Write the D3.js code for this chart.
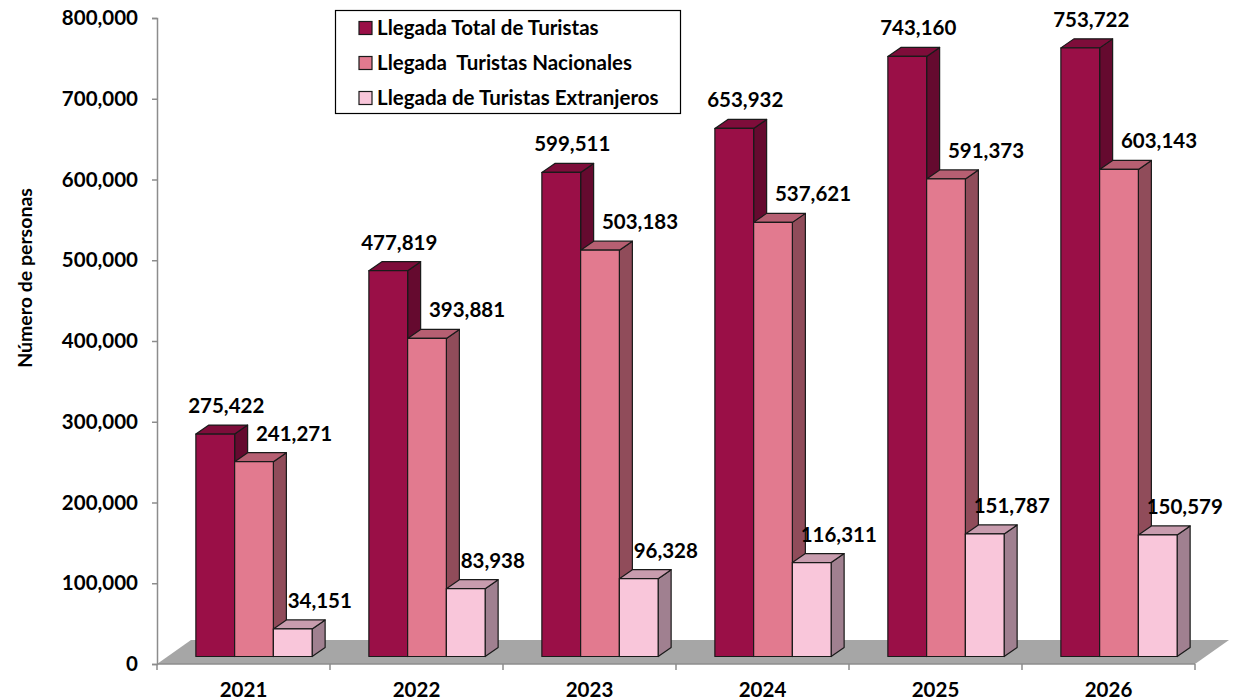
<!DOCTYPE html>
<html><head><meta charset="utf-8">
<script src="https://cdn.jsdelivr.net/npm/d3@7"></script>
<style>body{margin:0;background:#fff}svg{display:block}text{font-family:Lato,"Open Sans",sans-serif}</style>
</head><body><svg id="c" width="1234" height="700"></svg>
<script>
const categories = ["2021","2022","2023","2024","2025","2026"];
const seriesNames = ["Llegada Total de Turistas","Llegada  Turistas Nacionales","Llegada de Turistas Extranjeros"];
const totalValues = [275422,477819,599511,653932,743160,753722];
const nacionalValues = [241271,393881,503183,537621,591373,603143];
const extranjeroValues = [34151,83938,96328,116311,151787,150579];
const yTicks = [0,100000,200000,300000,400000,500000,600000,700000,800000];

const series = [
  {name: seriesNames[0], values: totalValues, front:"#9A0F47", top:"#7E0D3A", side:"#650A2F", lx:11},
  {name: seriesNames[1], values: nacionalValues, front:"#E27A8F", top:"#B65F72", side:"#904C5A", lx:40},
  {name: seriesNames[2], values: extranjeroValues, front:"#F9C6DA", top:"#C89CAE", side:"#A08090", lx:27}
];

const FS = 20.5;
const svg = d3.select("#c");
const x0 = 157, x1 = 1195, yTop = 18, yBot = 664;
const floorDx = 34, floorDy = -24;
const barDx = 13, barDy = -9;
const offDx = (floorDx - barDx)/2, offDy = (floorDy - barDy)/2;

const x = d3.scaleBand().domain(categories).range([x0, x1]).paddingInner(0).paddingOuter(0);
const y = d3.scaleLinear().domain([0, 800000]).range([yBot, yTop]);
const bw = x.bandwidth() * 0.224;

// floor
svg.append("path")
  .attr("d", `M${x0},${yBot} L${x1},${yBot} L${x1+floorDx},${yBot+floorDy} L${x0+floorDx},${yBot+floorDy} Z`)
  .attr("fill", "#A6A6A6");

// y axis
const yAxis = d3.axisLeft(y).tickValues(yTicks).tickSize(5).tickPadding(14)
  .tickFormat(d => d3.format(",")(d));
const gy = svg.append("g").attr("transform", `translate(${x0},0)`).call(yAxis);
gy.select(".domain").attr("stroke", "#8c8c8c").attr("stroke-width", 1.5);
gy.selectAll(".tick line").attr("stroke", "#8c8c8c").attr("stroke-width", 1.5);
gy.selectAll(".tick text").attr("font-size", FS).attr("font-weight", 700).attr("fill", "#000")
  .attr("font-family", "Lato, sans-serif");

// x axis
const gx = svg.append("g").attr("transform", `translate(0,${yBot})`);
gx.append("line").attr("x1", x0).attr("x2", x1).attr("y1", 0).attr("y2", 0).attr("stroke", "#8c8c8c").attr("stroke-width", 1.5);
const bounds = categories.map(c => x(c)).concat([x1]);
gx.selectAll("line.tk").data(bounds).enter().append("line").attr("class","tk")
  .attr("x1", d => d).attr("x2", d => d).attr("y1", 0).attr("y2", 6).attr("stroke", "#8c8c8c").attr("stroke-width", 1.5);
gx.selectAll("text").data(categories).enter().append("text")
  .attr("x", d => x(d) + x.bandwidth()/2).attr("y", 33)
  .attr("text-anchor", "middle").attr("font-size", FS).attr("font-weight", 700).text(d => d);

// bars
const base = yBot + offDy;
categories.forEach((c, ci) => {
  const start = x(c) + x.bandwidth()/2 - 1.5*bw + offDx;
  series.forEach((s, si) => {
    const v = s.values[ci];
    const h = yBot - y(v);
    const fx = start + si*bw;
    const ft = base - h;
    const g = svg.append("g").attr("stroke", "#1a1a1a").attr("stroke-width", 1.2).attr("stroke-linejoin", "round");
    g.append("path").attr("d", `M${fx+bw},${ft} L${fx+bw+barDx},${ft+barDy} L${fx+bw+barDx},${base+barDy} L${fx+bw},${base} Z`).attr("fill", s.side);
    g.append("path").attr("d", `M${fx},${ft} L${fx+barDx},${ft+barDy} L${fx+bw+barDx},${ft+barDy} L${fx+bw},${ft} Z`).attr("fill", s.top);
    g.append("rect").attr("x", fx).attr("y", ft).attr("width", bw).attr("height", h).attr("fill", s.front);
  });
});

// labels
categories.forEach((c, ci) => {
  const start = x(c) + x.bandwidth()/2 - 1.5*bw + offDx;
  series.forEach((s, si) => {
    const v = s.values[ci];
    const fx = start + si*bw;
    const ft = base - (yBot - y(v));
    svg.append("text").attr("x", fx + bw/2 + s.lx).attr("y", ft - 21)
      .attr("text-anchor", "middle").attr("font-size", FS).attr("font-weight", 700)
      .attr("fill", "#000").text(d3.format(",")(v));
  });
});

// y title
svg.append("text").attr("transform", "translate(32,278) rotate(-90)")
  .attr("text-anchor", "middle").attr("font-size", 19.5).attr("font-weight", 700).text("Número de personas");

// legend
const lg = svg.append("g");
lg.append("rect").attr("x", 335.5).attr("y", 10.5).attr("width", 345).attr("height", 103)
  .attr("fill", "#fff").attr("stroke", "#000").attr("stroke-width", 1.2);
series.forEach((s, i) => {
  const cy = 28 + i*35;
  lg.append("rect").attr("x", 359).attr("y", cy - 6.5).attr("width", 13).attr("height", 13)
    .attr("fill", s.front).attr("stroke", "#1a1a1a").attr("stroke-width", 1.2);
  lg.append("text").attr("x", 377).attr("y", cy + 7).attr("font-size", FS).attr("font-weight", 700)
    .style("white-space", "pre").text(s.name);
});
</script></body></html>
